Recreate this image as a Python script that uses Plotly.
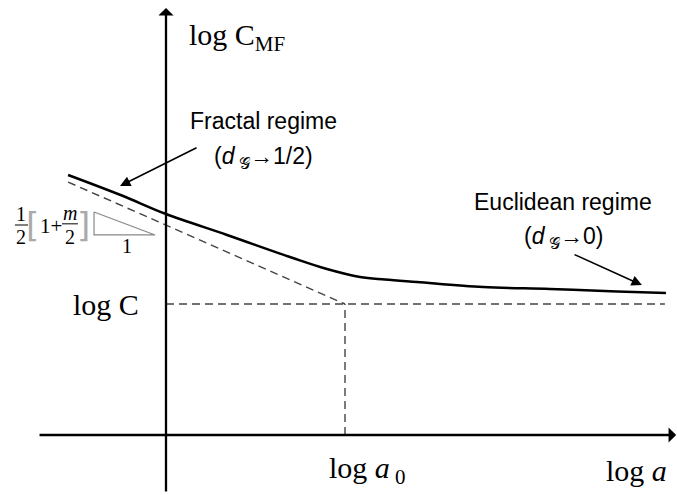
import plotly.graph_objects as go

# Schematic: log C_MF versus log a, with the fractal asymptote and the Euclidean plateau
log_a0 = 1.0          # crossover scale
log_C = 1.0           # Euclidean plateau level

# solid curve: log C_MF(log a)
curve_x = [-0.547, -0.25, 0.0, 0.341, 0.709, 0.899, 1.084, 1.223, 1.402, 1.771, 2.145, 2.520, 2.793]
curve_y = [1.985, 1.83, 1.687, 1.527, 1.351, 1.267, 1.206, 1.187, 1.168, 1.130, 1.115, 1.095, 1.084]

# fractal asymptote (dashed) ending at (log a0, log C)
asym_x = [-0.547, log_a0]
asym_y = [1.931, log_C]

# plateau level and crossover guide lines
plateau_x = [0.0, 2.787]
plateau_y = [log_C, log_C]
cross_x = [log_a0, log_a0]
cross_y = [0.0, log_C]

# slope triangle
tri_x = [-0.402, -0.402, -0.061, -0.402]
tri_y = [1.702, 1.527, 1.527, 1.702]

# axis extents
x_axis = [-0.715, 2.85]
y_axis = [-0.443, 3.26]

SERIF = "Liberation Serif, Times New Roman, serif"
SANS = "Liberation Sans, Arial, sans-serif"
DASH = "8px,5px"

fig = go.Figure()

fig.add_trace(go.Scatter(x=asym_x, y=asym_y, mode="lines",
                         line=dict(color="#444", width=1.4, dash=DASH), hoverinfo="skip"))
fig.add_trace(go.Scatter(x=plateau_x, y=plateau_y, mode="lines",
                         line=dict(color="#444", width=1.4, dash=DASH), hoverinfo="skip"))
fig.add_trace(go.Scatter(x=cross_x, y=cross_y, mode="lines",
                         line=dict(color="#444", width=1.4, dash=DASH), hoverinfo="skip"))
fig.add_trace(go.Scatter(x=curve_x, y=curve_y, mode="lines",
                         line=dict(color="black", width=2.5, shape="spline", smoothing=1.0),
                         hoverinfo="skip"))
fig.add_trace(go.Scatter(x=tri_x, y=tri_y, mode="lines",
                         line=dict(color="#888", width=1.2), hoverinfo="skip"))

annotations = []

# axes drawn as arrows
annotations.append(dict(x=x_axis[1], y=0, ax=x_axis[0], ay=0, xref="x", yref="y",
                        axref="x", ayref="y", showarrow=True, arrowhead=1, arrowsize=1.1,
                        arrowwidth=2.3, arrowcolor="black", text=""))
annotations.append(dict(x=0, y=y_axis[1], ax=0, ay=y_axis[0], xref="x", yref="y",
                        axref="x", ayref="y", showarrow=True, arrowhead=1, arrowsize=1.1,
                        arrowwidth=2.3, arrowcolor="black", text=""))

# regime pointers
annotations.append(dict(x=-0.257, y=1.901, ax=0.179, ay=2.198, xref="x", yref="y",
                        axref="x", ayref="y", showarrow=True, arrowhead=2, arrowsize=1.3,
                        arrowwidth=1.6, arrowcolor="black", text=""))
annotations.append(dict(x=2.659, y=1.145, ax=2.274, ay=1.382, xref="x", yref="y",
                        axref="x", ayref="y", showarrow=True, arrowhead=2, arrowsize=1.3,
                        arrowwidth=1.6, arrowcolor="black", text=""))


def label(x, y, text, size, family, color="black", xanchor="center"):
    annotations.append(dict(x=x, y=y, xref="x", yref="y", text=text, showarrow=False,
                            xanchor=xanchor, yanchor="middle",
                            font=dict(size=size, family=family, color=color)))


label(0.397, 3.04, "log C<sub>MF</sub>", 30, SERIF)
label(-0.335, 1.0, "log C", 30, SERIF)
label(1.123, -0.27, "log <i>a</i><sub> 0</sub>", 30, SERIF)
label(2.63, -0.27, "log <i>a</i>", 30, SERIF)

label(0.547, 2.40, "Fractal regime", 23, SANS)
label(0.547, 2.12, "(<i>d</i><sub> 𝒢</sub>→1/2)", 23, SANS)
label(2.218, 1.775, "Euclidean regime", 23, SANS)
label(2.218, 1.51, "(<i>d</i><sub> 𝒢</sub>→0)", 23, SANS)

# slope label  1/2 [1 + m/2]  and the unit run of the triangle
label(-0.810, 1.690, "1", 20, SERIF)
label(-0.810, 1.515, "2", 20, SERIF)
label(-0.745, 1.606, "[", 34, "DejaVu Sans, sans-serif", color="#aaa")
label(-0.643, 1.595, "1+", 21, SERIF)
label(-0.536, 1.695, "<i>m</i>", 20, SERIF)
label(-0.536, 1.515, "2", 20, SERIF)
label(-0.460, 1.606, "]", 34, "DejaVu Sans, sans-serif", color="#aaa")
label(-0.218, 1.440, "1", 20, SERIF)

fig.add_shape(type="line", x0=-0.844, x1=-0.771, y0=1.603, y1=1.603,
              xref="x", yref="y", line=dict(color="black", width=1))
fig.add_shape(type="line", x0=-0.581, x1=-0.492, y0=1.612, y1=1.612,
              xref="x", yref="y", line=dict(color="black", width=1))

fig.update_layout(
    width=677, height=495,
    margin=dict(l=0, r=0, t=0, b=0),
    paper_bgcolor="white", plot_bgcolor="white",
    showlegend=False,
    annotations=annotations,
    xaxis=dict(range=[-166 / 179, 511 / 179], visible=False, fixedrange=True),
    yaxis=dict(range=[-60 / 131, 435 / 131], visible=False, fixedrange=True),
)

fig.write_html("out.html")
